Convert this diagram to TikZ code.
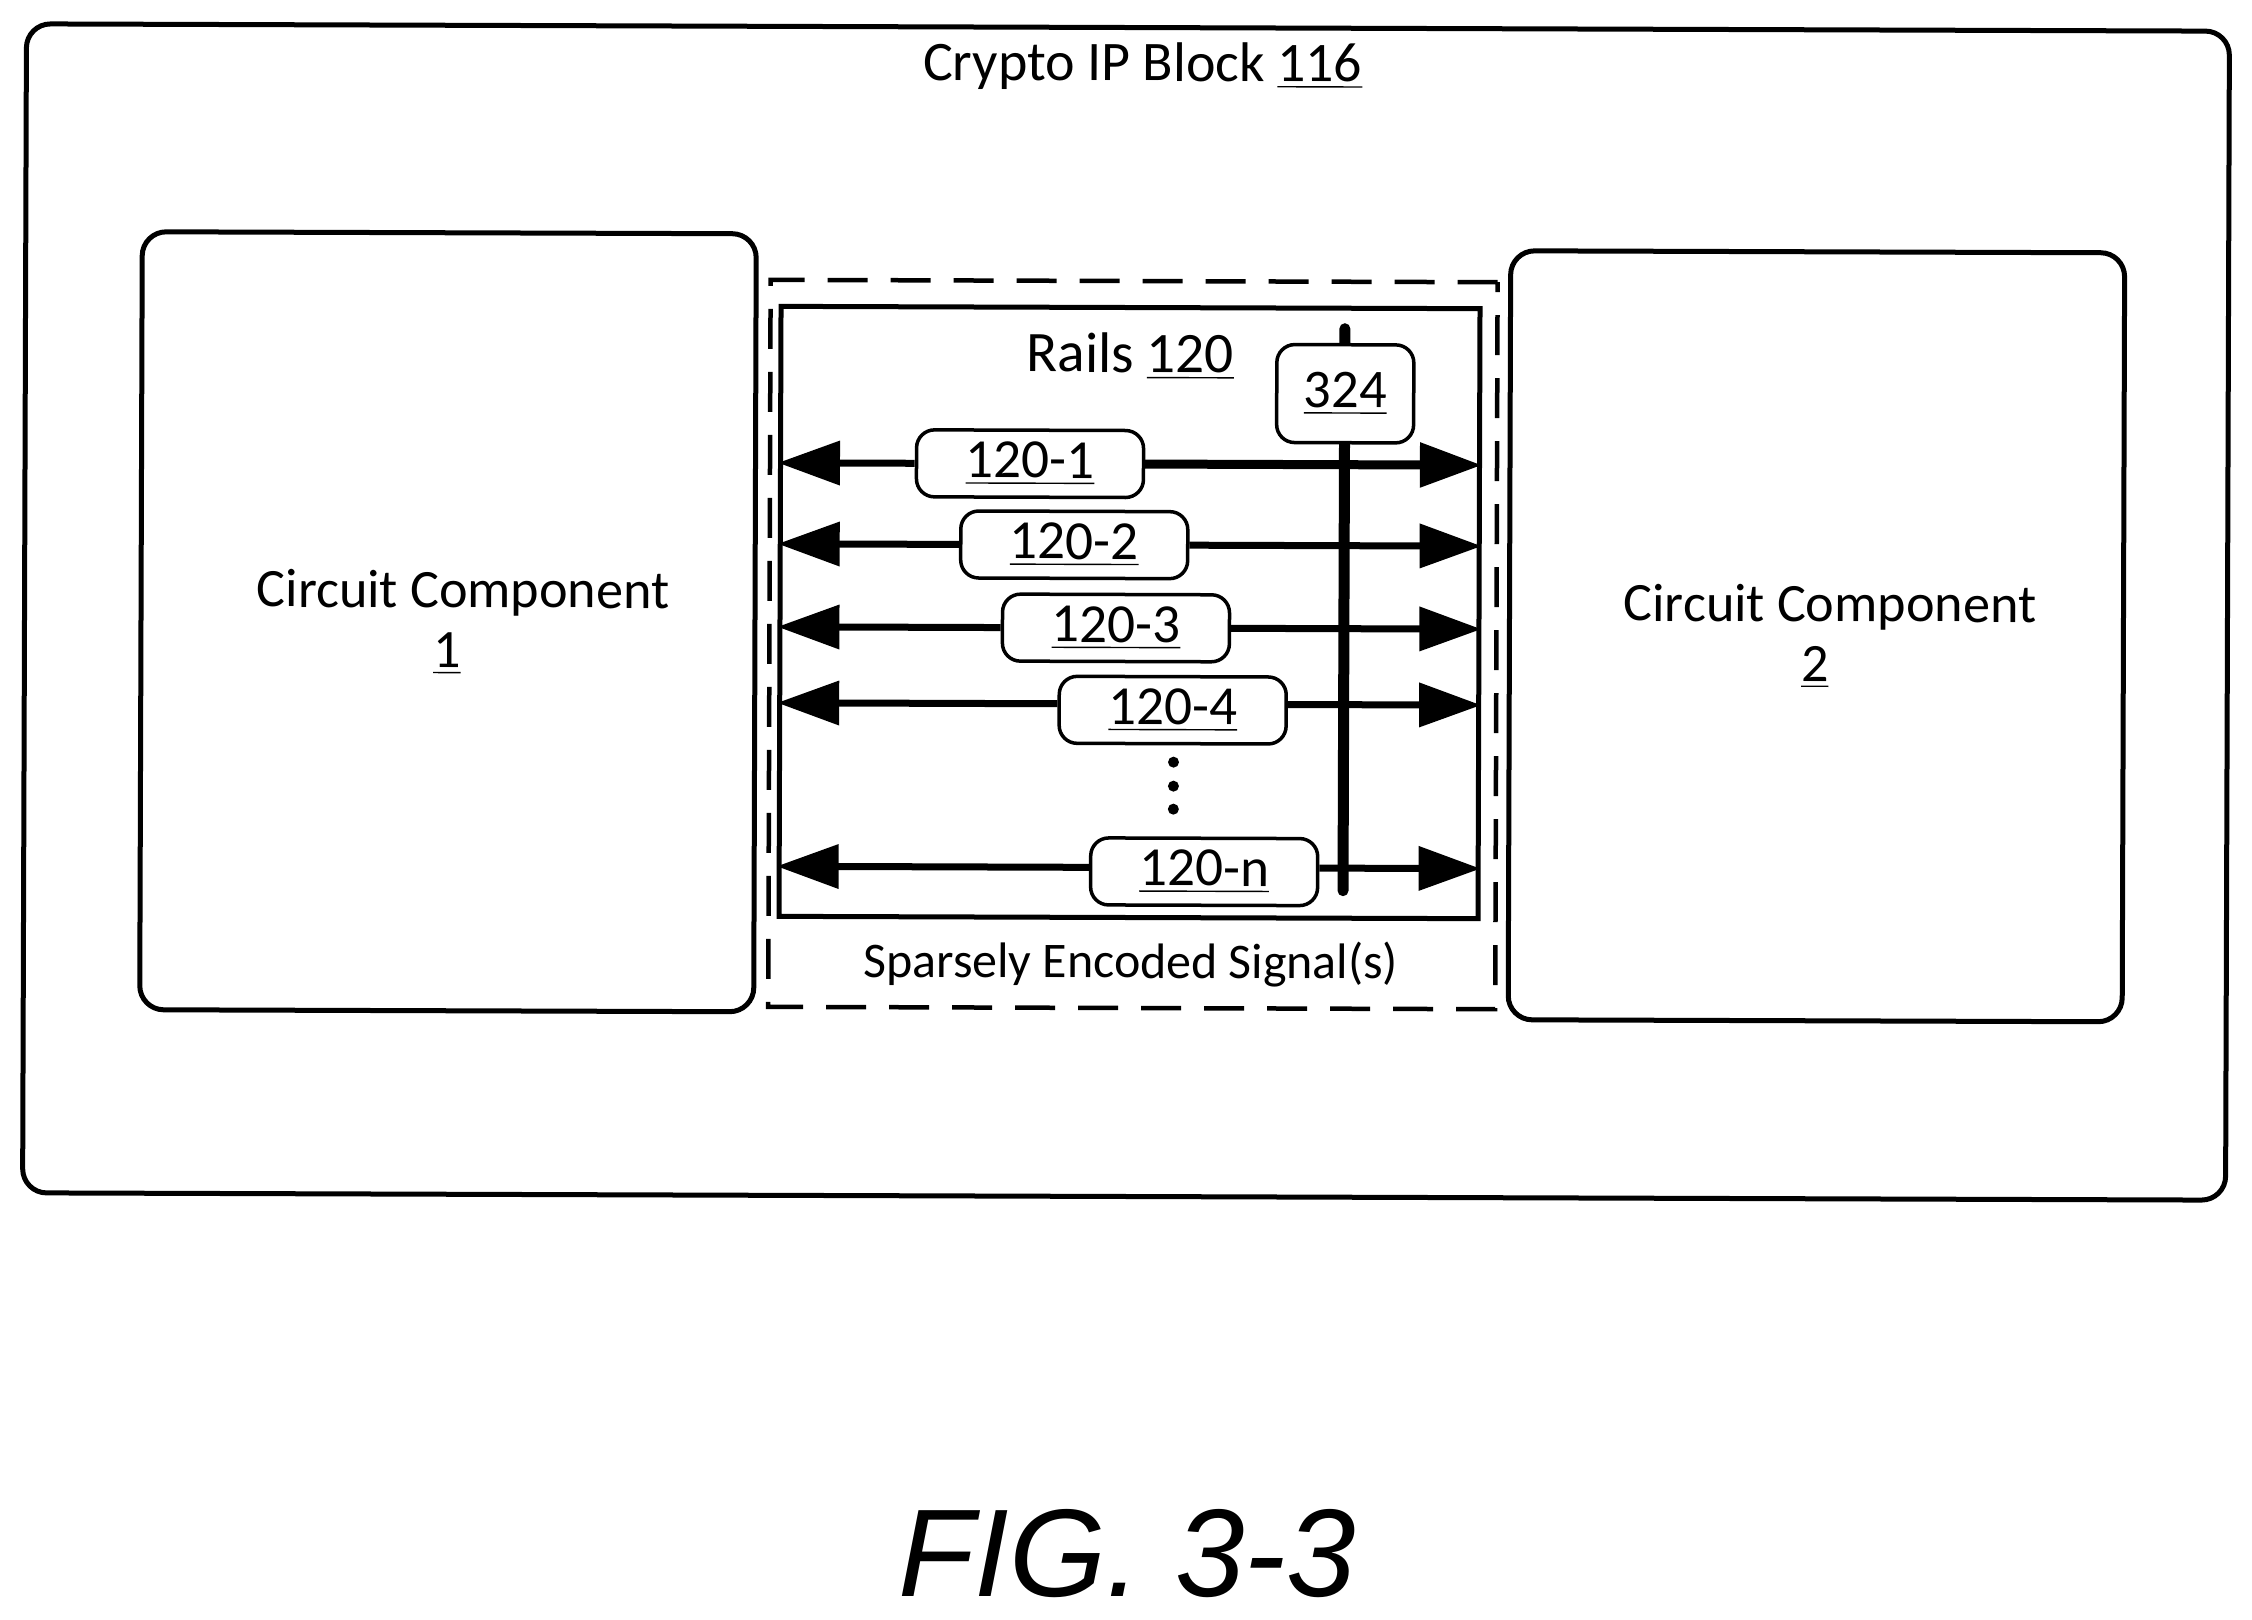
\documentclass[tikz,border=0pt]{standalone}
\usepackage{fontspec}
\setmainfont{Carlito}
\newfontfamily\figfont{Liberation Sans}
\usetikzlibrary{arrows.meta}

\tikzset{
  bigbox/.style={draw,line width=0.05cm,rounded corners=0.24cm},
  railbox/.style={draw,fill=white,line width=0.035cm,rounded corners=0.18cm,
    minimum width=2.27cm,minimum height=0.67cm,inner sep=0pt,font=\fontsize{15.7}{18}\selectfont},
  rail/.style={line width=0.07cm,-{Triangle[length=0.62cm,width=0.43cm]}},
  label16/.style={inner sep=0pt,font=\fontsize{15.4}{18}\selectfont},
  dot/.style={circle,fill,minimum size=0.11cm,inner sep=0pt}
}

\begin{document}
\begin{tikzpicture}
  \useasboundingbox (0,0) rectangle (22.52,-16.19);
  \begin{scope}[rotate around={-0.19:(11.29,-6.14)},transform shape]
  \node[bigbox,minimum width=22.03cm,minimum height=11.69cm] (crypto) at (11.26,-6.12) {};
  \node[inner sep=0pt,font=\fontsize{15.9}{18}\selectfont] (cryptolabel) at (11.41,-0.66) {Crypto IP Block \underline{116}};
  \node[bigbox,minimum width=6.14cm,minimum height=7.78cm] (comp1) at (4.48,-6.24) {};
  \node[label16] (comp1label) at (4.63,-5.955) {Circuit Component};
  \node[label16] (comp1num) at (4.47,-6.56) {\underline{1}};
  \node[bigbox,minimum width=6.14cm,minimum height=7.69cm] (comp2) at (18.165,-6.34) {};
  \node[label16] (comp2label) at (18.30,-6.05) {Circuit Component};
  \node[label16] (comp2num) at (18.15,-6.65) {\underline{2}};

  \node[draw,line width=0.045cm,dash pattern=on 0.4cm off 0.23cm,
    minimum width=7.27cm,minimum height=7.27cm] (sparse) at (11.33,-6.445) {};
  \node[inner sep=0pt,font=\fontsize{14.2}{16}\selectfont] (sparselabel) at (11.32,-9.64) {Sparsely Encoded Signal(s)};
  \node[draw,line width=0.05cm,minimum width=6.99cm,minimum height=6.10cm] (rails) at (11.295,-6.125) {};
  \node[inner sep=0pt,font=\fontsize{16.3}{18}\selectfont] (railslabel) at (11.295,-3.56) {Rails \underline{120}};

  \node[railbox] (r1) at (10.295,-4.64) {\underline{120-1}};
  \node[railbox] (r2) at (10.74,-5.45) {\underline{120-2}};
  \node[railbox] (r3) at (11.16,-6.28) {\underline{120-3}};
  \node[railbox] (r4) at (11.73,-7.10) {\underline{120-4}};
  \node[railbox] (rn) at (12.05,-8.715) {\underline{120-n}};

  \draw[rail] (r1.west) -- (r1.west -| rails.west);
  \draw[rail,line width=0.09cm] (r1.east) -- (r1.east -| rails.east);
  \draw[rail] (r2.west) -- (r2.west -| rails.west);
  \draw[rail] (r2.east) -- (r2.east -| rails.east);
  \draw[rail] (r3.west) -- (r3.west -| rails.west);
  \draw[rail] (r3.east) -- (r3.east -| rails.east);
  \draw[rail] ([yshift=0.06cm]r4.west) -- ([yshift=0.06cm]r4.west -| rails.west);
  \draw[rail] ([yshift=0.06cm]r4.east) -- ([yshift=0.06cm]r4.east -| rails.east);
  \draw[rail] ([yshift=0.04cm]rn.west) -- ([yshift=0.04cm]rn.west -| rails.west);
  \draw[rail] ([yshift=0.04cm]rn.east) -- ([yshift=0.04cm]rn.east -| rails.east);

  \coordinate (bartop) at (13.44,-3.28);
  \coordinate (barbot) at (13.44,-8.90);
  \draw[line width=0.11cm,line cap=round] (bartop) -- (barbot);
  \node[railbox,minimum width=1.37cm,minimum height=0.98cm,font=\fontsize{15.5}{18}\selectfont] (sel) at (13.445,-3.93) {\underline{324}};

  \node[dot] (dot1) at (11.74,-7.62) {};
  \node[dot] (dot2) at (11.74,-7.86) {};
  \node[dot] (dot3) at (11.74,-8.09) {};
  \end{scope}

  \node[inner sep=0pt,font=\figfont\itshape\fontsize{35.5}{40}\selectfont] (figlabel) at (11.27,-15.535) {FIG. 3-3};
\end{tikzpicture}
\end{document}
